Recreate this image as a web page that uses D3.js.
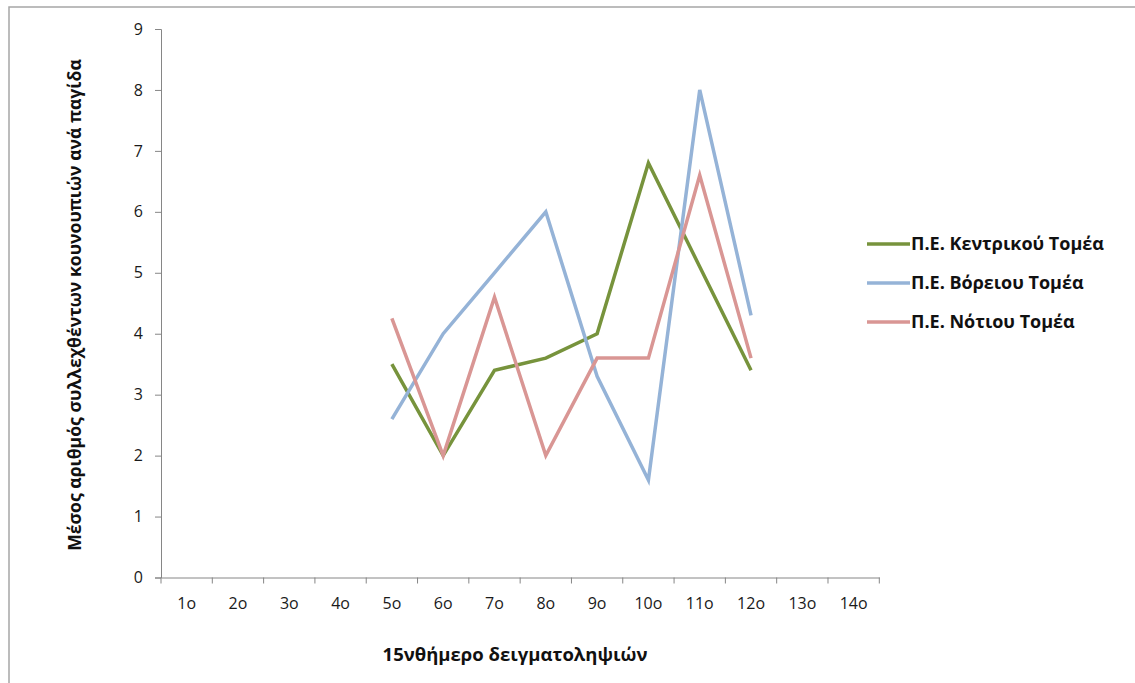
<!DOCTYPE html>
<html><head><meta charset="utf-8">
<script src="https://cdn.jsdelivr.net/npm/d3@7"></script>
<style>
html,body{margin:0;padding:0;background:#fff;}
svg{display:block;}
</style>
</head><body>
<svg id="chart" width="1135" height="683"></svg>
<script>
const categories = ["1ο","2ο","3ο","4ο","5ο","6ο","7ο","8ο","9ο","10ο","11ο","12ο","13ο","14ο"];
const seriesNames = ["Π.Ε. Κεντρικού Τομέα","Π.Ε. Βόρειου Τομέα","Π.Ε. Νότιου Τομέα"];
const kentrikou = [null,null,null,null,3.5,2.0,3.4,3.6,4.0,6.8,5.1,3.4,null,null];
const voreiou   = [null,null,null,null,2.6,4.0,5.0,6.0,3.3,1.6,8.0,4.3,null,null];
const notiou    = [null,null,null,null,4.25,2.0,4.6,2.0,3.6,3.6,6.6,3.6,null,null];
const yTicks = [0,1,2,3,4,5,6,7,8,9];
const xTitle = "15νθήμερο δειγματοληψιών";
const yTitle = "Μέσος αριθμός συλλεχθέντων κουνουπιών ανά παγίδα";

const colors = ["#77933C","#95B3D7","#D99694"];
const seriesData = [kentrikou, voreiou, notiou];

const svg = d3.select("#chart");
const font = "Open Sans, Liberation Sans, sans-serif";

// outer border
svg.append("rect").attr("x",9).attr("y",7).attr("width",1140).attr("height",700)
  .attr("fill","#fff").attr("stroke","#a6a6a6").attr("stroke-width",1.5);

const pLeft = 161, pRight = 879.3, pTop = 29, pBottom = 577.5;
const x = d3.scaleBand().domain(categories).range([pLeft,pRight]).padding(0);
const y = d3.scaleLinear().domain([0,9]).range([pBottom,pTop]);

// y axis
const yAxis = d3.axisLeft(y).tickValues(yTicks).tickSize(6).tickPadding(12);
const gy = svg.append("g").attr("transform",`translate(${pLeft},0)`).call(yAxis);
gy.select(".domain").attr("stroke","#868686").attr("stroke-width",1);
gy.selectAll(".tick line").attr("stroke","#868686");
gy.selectAll(".tick text").style("font-family",font).style("font-size","16px").attr("fill","#1a1a1a");

// x axis with ticks at band boundaries
const xAxis = d3.axisBottom(x).tickSize(0).tickPadding(20);
const gx = svg.append("g").attr("transform",`translate(0,${pBottom})`).call(xAxis);
gx.select(".domain").attr("stroke","#868686").attr("stroke-width",1);
gx.selectAll(".tick text").style("font-family",font).style("font-size","16px").attr("fill","#1a1a1a");
const bounds = categories.map(c => x(c)).concat([x(categories[categories.length-1]) + x.bandwidth()]);
gx.selectAll(".bnd").data(bounds).enter().append("line")
  .attr("x1",d=>d).attr("x2",d=>d).attr("y1",0).attr("y2",6)
  .attr("stroke","#868686");

// lines
const line = d3.line()
  .defined(d => d.v !== null)
  .x(d => x(d.c) + x.bandwidth()/2)
  .y(d => y(d.v));
seriesData.forEach((s,i) => {
  const pts = categories.map((c,j) => ({c, v: s[j]}));
  svg.append("path").datum(pts).attr("d",line)
    .attr("fill","none").attr("stroke",colors[i]).attr("stroke-width",3.5)
    .attr("stroke-linejoin","miter");
});

// axis titles
svg.append("text").attr("x",515).attr("y",661).attr("text-anchor","middle")
  .attr("font-family",font).attr("font-weight","bold").attr("font-size",18.5).attr("fill","#111")
  .text(xTitle);
svg.append("text").attr("transform","translate(81,305) rotate(-90)").attr("text-anchor","middle")
  .attr("font-family",font).attr("font-weight","bold").attr("font-size",17.6).attr("fill","#111")
  .text(yTitle);

// legend
const legY = [244, 283, 322];
seriesNames.forEach((n,i) => {
  svg.append("line").attr("x1",867).attr("x2",910).attr("y1",legY[i]).attr("y2",legY[i])
    .attr("stroke",colors[i]).attr("stroke-width",3.5);
  svg.append("text").attr("x",911).attr("y",legY[i]).attr("dy","0.35em")
    .attr("font-family",font).attr("font-weight","bold").attr("font-size",18).attr("fill","#111")
    .text(n);
});
</script>
</body></html>
